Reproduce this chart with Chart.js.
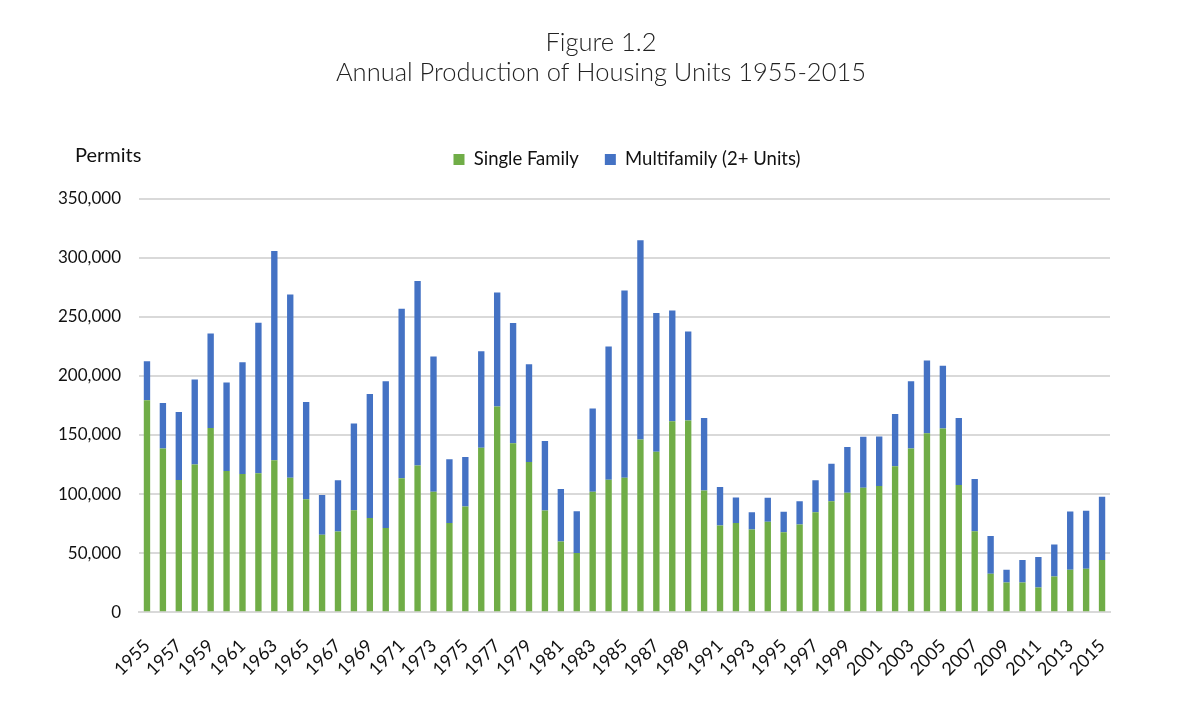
<!DOCTYPE html>
<html>
<head>
<meta charset="utf-8">
<script src="https://cdn.jsdelivr.net/npm/chart.js@4.4.1/dist/chart.umd.min.js"></script>
<style>
  html, body { margin: 0; padding: 0; background: #fff; overflow: hidden; }
  #wrap { position: relative; width: 1200px; height: 701px; }
</style>
</head>
<body>
<div id="wrap"><canvas id="housingChart" width="1200" height="701"></canvas></div>
<script>
// Years 1955-2015
const years = [];
for (let y = 1955; y <= 2015; y++) years.push(String(y));

// Single family permits
const singleFamily = [
    179500, 138500, 112000, 125000, 156000, 119500, 117000, 117700, 128700, 113700,
    95600, 65600, 68200, 86300, 79800, 71300, 113400, 124100, 102000, 75600,
    89500, 139300, 174200, 143000, 127200, 86100, 59800, 50100, 102000, 112100,
    113800, 146100, 135900, 161700, 162300, 103100, 73300, 75600, 69900, 76500,
    67700, 74200, 84700, 94000, 101100, 105300, 106800, 123500, 138500, 151500,
    155500, 107600, 68500, 32600, 25200, 25200, 21000, 30300, 36000, 36800,
    44200
];

// Multifamily (2+ units) permits, stacked on top
const multifamily = [
    33000, 38500, 57500, 72000, 80000, 75000, 94600, 127300, 177000, 155300,
    82400, 33700, 43500, 73500, 104900, 124200, 143500, 156300, 114400, 53800,
    41900, 81600, 96500, 101700, 82700, 58900, 44400, 35400, 70500, 112800,
    158600, 168800, 117300, 93700, 75300, 61200, 32600, 21500, 14800, 20400,
    17300, 19800, 26900, 31700, 38800, 43100, 41900, 44200, 56900, 61500,
    53200, 56700, 44200, 32000, 10800, 19000, 25700, 26900, 49200, 49000,
    53500
];

const axisFont = "Lato, 'Open Sans', sans-serif";

// "Permits" label above the y axis
const permitsLabel = {
    id: 'permitsLabel',
    afterDraw(chart) {
        const ctx = chart.ctx;
        ctx.save();
        ctx.font = '20px ' + axisFont;
        ctx.fillStyle = '#111';
        ctx.textAlign = 'left';
        ctx.textBaseline = 'middle';
        ctx.fillText('Permits', 75, 156);
        ctx.restore();
    }
};

// extra room under the legend
const legendGap = {
    id: 'legendGap',
    beforeInit(chart) {
        const fit = chart.legend.fit;
        chart.legend.fit = function () {
            fit.call(this);
            this.height += 20;
        };
    }
};

// title and legend are centred a bit right of the padded box
const shiftHeader = {
    id: 'shiftHeader',
    afterLayout(chart) {
        chart.titleBlock.left += 26;
        chart.titleBlock.right += 26;
        chart.legend.left += 52;
        chart.legend.right += 52;
    }
};

const ctx = document.getElementById('housingChart').getContext('2d');
new Chart(ctx, {
    type: 'bar',
    data: {
        labels: years,
        datasets: [
            {
                label: 'Single Family',
                data: singleFamily,
                backgroundColor: '#70AD47',
                barPercentage: 0.4,
                categoryPercentage: 1.0
            },
            {
                label: 'Multifamily (2+ Units)',
                data: multifamily,
                backgroundColor: '#4472C4',
                barPercentage: 0.4,
                categoryPercentage: 1.0
            }
        ]
    },
    options: {
        responsive: false,
        animation: false,
        devicePixelRatio: 1,
        layout: {
            padding: { left: 40, right: 90, top: 0, bottom: 6 }
        },
        plugins: {
            title: {
                display: true,
                text: ['Figure 1.2', 'Annual Production of Housing Units 1955-2015'],
                color: '#222',
                font: { family: axisFont, size: 25.5, weight: '300', lineHeight: 1.2 },
                padding: { top: 27, bottom: 36 }
            },
            legend: {
                position: 'top',
                labels: {
                    color: '#111',
                    font: { family: axisFont, size: 18.5 },
                    boxWidth: 11,
                    boxHeight: 11,
                    padding: 26
                }
            },
            tooltip: { enabled: false }
        },
        scales: {
            x: {
                stacked: true,
                grid: { display: false },
                border: { color: '#d9d9d9', width: 2 },
                ticks: {
                    autoSkip: false,
                    maxRotation: 45,
                    minRotation: 45,
                    padding: 15,
                    color: '#111',
                    font: { family: axisFont, size: 18 },
                    callback: function (value, index) {
                        return index % 2 === 0 ? this.getLabelForValue(value) : '';
                    }
                }
            },
            y: {
                stacked: true,
                min: 0,
                max: 350000,
                grid: { color: '#d9d9d9', lineWidth: 2, drawTicks: false },
                border: { display: false },
                ticks: {
                    stepSize: 50000,
                    padding: 18,
                    color: '#111',
                    font: { family: axisFont, size: 17 },
                    callback: v => v.toLocaleString('en-US')
                }
            }
        }
    },
    plugins: [permitsLabel, legendGap, shiftHeader]
});
</script>
</body>
</html>
